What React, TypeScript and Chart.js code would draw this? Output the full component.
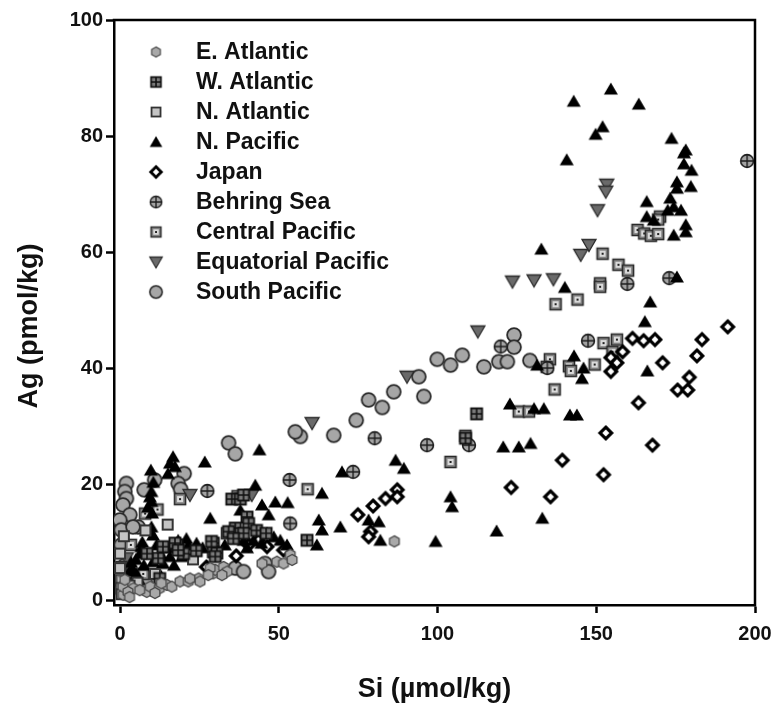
import React, { useEffect, useRef } from "react";
import { Chart, registerables } from "chart.js";
Chart.register(...registerables);

type Pt = [number, number];

const seriesNames = [
  "E. Atlantic",
  "W. Atlantic",
  "N. Atlantic",
  "N. Pacific",
  "Japan",
  "Behring Sea",
  "Central Pacific",
  "Equatorial Pacific",
  "South Pacific",
];

const xTicks = [0, 50, 100, 150, 200];
const yTicks = [0, 20, 40, 60, 80, 100];
const xTitle = "Si (\u00b5mol/kg)";
const yTitle = "Ag (pmol/kg)";

const eAtlantic: Pt[] = [
  [1.0, 0.9], [4.2, 2.0], [8.4, 1.4], [9.5, 2.3], [12.4, 2.0], [14.7, 2.6], [16.3, 2.3],
  [18.9, 3.2], [21.5, 3.2], [24.7, 3.7], [25.2, 3.2], [29.4, 4.6], [30.0, 5.2], [32.6, 5.7],
  [33.7, 4.9], [32.1, 4.3], [28.4, 5.5], [49.4, 6.6], [51.5, 6.3], [53.6, 7.8], [54.2, 6.9],
  [44.7, 6.3], [0.9, 2.3], [2.5, 1.4], [6.2, 1.7], [13.0, 2.9], [22.0, 3.7], [27.8, 4.3],
  [86.4, 10.1], [1.5, 3.5], [3.0, 0.5], [11.0, 1.2],
];

const wAtlantic: Pt[] = [
  [112.3, 32.1], [108.8, 27.9], [35.2, 17.4], [37.9, 17.4], [38.9, 18.1], [40.0, 14.3],
  [40.5, 13.2], [36.3, 12.4], [38.9, 11.5], [34.2, 11.8], [35.7, 10.6], [29.4, 9.8],
  [29.4, 8.3], [30.5, 8.1], [30.0, 7.5], [17.9, 9.5], [20.0, 8.0], [17.3, 9.8], [18.3, 8.6],
  [28.8, 10.1], [12.0, 7.2], [12.5, 3.7], [58.9, 10.3], [43.0, 12.0], [46.0, 11.5],
  [24.0, 8.5], [13.5, 9.2], [8.5, 8.0],
];

const nAtlantic: Pt[] = [
  [0.0, 5.5], [0.0, 8.0], [1.2, 11.0], [5.5, 3.0], [11.0, 4.5], [3.0, 2.5], [8.0, 12.0],
  [15.0, 13.0], [23.0, 7.0], [0.5, 1.0],
];

const nPacific: Pt[] = [
  [142.9, 86.0], [154.6, 88.1], [163.4, 85.5], [152.0, 81.6], [149.8, 80.3], [140.7, 75.9],
  [173.7, 79.6], [178.2, 77.6], [177.6, 77.1], [177.6, 75.2], [180.0, 74.1], [175.4, 72.1],
  [179.8, 71.3], [175.4, 71.0], [165.9, 68.7], [173.3, 69.3], [176.7, 67.2], [174.4, 67.8],
  [165.9, 66.1], [168.1, 65.5], [172.5, 67.2], [178.2, 64.7], [178.2, 63.5], [174.4, 62.9],
  [175.4, 55.7], [167.0, 51.4], [165.3, 48.0], [132.7, 60.5], [140.1, 53.9],
  [143.0, 42.1], [146.0, 40.0], [145.5, 38.2], [166.1, 39.5], [131.4, 40.5], [122.8, 33.8],
  [130.4, 33.0], [133.5, 33.0], [141.7, 31.9], [143.9, 31.9], [120.7, 26.4], [125.6, 26.4],
  [129.3, 27.0], [86.8, 24.1], [89.4, 22.7], [104.1, 17.8], [104.6, 16.1], [78.3, 13.8],
  [81.5, 13.5], [82.0, 10.3], [99.4, 10.1], [118.6, 11.9], [133.0, 14.1], [69.4, 12.6],
  [69.9, 22.1], [63.6, 18.4], [62.6, 13.8], [63.6, 12.1], [62.0, 9.5],
  [43.9, 25.9], [42.6, 19.8], [44.7, 16.4], [48.9, 16.9], [52.8, 16.8], [37.9, 15.5],
  [46.8, 14.7], [28.4, 14.1], [38.9, 10.3], [42.0, 10.3], [46.3, 11.5], [48.4, 10.9],
  [50.5, 10.3], [52.6, 9.5], [36.3, 10.6], [16.7, 24.7], [15.7, 23.6], [15.1, 21.8],
  [17.3, 23.0], [26.7, 23.8], [9.7, 22.4], [9.9, 18.7], [9.9, 17.0], [9.4, 17.8],
  [9.9, 12.6], [10.4, 11.2], [18.3, 10.3], [20.9, 10.6], [21.5, 9.5], [6.7, 9.2],
  [6.2, 8.0], [9.4, 8.0], [13.0, 7.8], [15.7, 7.5], [4.1, 5.2], [5.1, 4.6], [10.4, 6.6],
  [13.6, 6.3], [24.1, 9.8], [3.5, 6.5], [7.5, 6.0], [11.5, 9.5], [2.0, 4.0],
  [10.1, 15.0], [10.5, 20.3], [8.8, 16.0], [5.0, 7.0], [7.0, 10.0], [12.0, 5.0],
  [17.0, 6.0], [19.5, 7.5], [26.0, 9.0], [33.0, 9.5], [40.0, 9.0], [44.5, 9.8],
  [3.0, 5.0], [6.0, 3.5], [16.0, 9.0],
];

const japan: Pt[] = [
  [191.4, 47.1], [183.3, 44.9], [181.7, 42.1], [179.3, 38.4], [175.6, 36.2], [178.8, 36.2],
  [170.9, 40.9], [161.4, 45.1], [164.9, 44.7], [168.5, 44.9], [158.3, 42.8], [154.6, 41.8],
  [156.5, 40.9], [154.6, 39.4], [163.3, 34.0], [153.0, 28.8], [167.7, 26.7], [139.3, 24.1],
  [152.3, 21.6], [123.2, 19.4], [135.6, 17.8], [87.3, 19.0], [87.3, 17.8], [83.6, 17.5],
  [79.7, 16.2], [74.9, 14.7], [78.9, 11.8], [78.3, 10.9], [36.6, 7.6], [46.3, 9.2],
  [43.6, 10.3], [51.5, 8.6], [27.2, 5.7], [40.5, 9.5],
];

const behringSea: Pt[] = [
  [197.5, 75.7], [173.0, 55.5], [159.8, 54.5], [147.4, 44.7], [134.6, 40.0], [119.9, 43.7],
  [109.9, 26.7], [80.2, 27.9], [96.7, 26.7], [73.4, 22.1], [27.5, 18.8], [53.4, 20.7],
  [53.6, 13.2],
];

const centralPacific: Pt[] = [
  [163.0, 63.8], [165.1, 63.2], [167.2, 62.8], [169.5, 63.1], [170.1, 66.1], [169.5, 65.6],
  [152.0, 59.7], [157.0, 57.8], [160.0, 56.8], [151.2, 54.6], [151.2, 54.0], [144.1, 51.8],
  [137.2, 51.0], [135.4, 41.5], [134.4, 40.2], [141.4, 40.3], [142.0, 39.5], [149.5, 40.6],
  [152.3, 44.3], [156.5, 44.9], [155.1, 42.8], [136.9, 36.3], [125.6, 32.5], [128.8, 32.5],
  [104.1, 23.8], [59.1, 19.1], [18.9, 17.4], [7.9, 14.9], [11.8, 15.6], [7.3, 4.5],
  [0.4, 5.7], [0.4, 3.4], [0.4, 2.0], [3.4, 9.5], [37.0, 17.9], [33.7, 11.5], [108.8, 28.3],
];

const equatorialPacific: Pt[] = [
  [153.3, 71.6], [153.0, 70.4], [150.4, 67.2], [147.7, 61.2], [145.1, 59.5], [123.6, 54.9],
  [130.4, 55.1], [136.5, 55.3], [112.7, 46.3], [90.4, 38.5], [60.5, 30.5], [22.0, 18.1],
  [2.0, 7.2], [41.5, 18.1],
];

const southPacific: Pt[] = [
  [124.1, 45.7], [124.1, 43.6], [119.3, 41.1], [122.0, 41.1], [114.6, 40.2], [129.1, 41.3],
  [107.8, 42.2], [104.1, 40.5], [99.9, 41.5], [94.1, 38.5], [95.7, 35.1], [86.2, 35.9],
  [82.6, 33.2], [78.3, 34.5], [74.4, 31.0], [67.3, 28.4], [56.8, 28.2], [55.2, 29.0],
  [34.2, 27.1], [36.3, 25.2], [20.2, 21.8], [18.3, 20.1], [19.1, 19.1], [10.9, 20.7],
  [7.6, 19.0], [2.0, 20.1], [1.5, 18.7], [2.0, 17.5], [0.9, 16.4], [3.1, 14.7], [5.7, 12.6],
  [-0.1, 13.8], [0.4, 12.1], [0.4, 9.5], [4.1, 12.6], [36.3, 5.5], [38.9, 4.9], [45.7, 6.3],
  [46.8, 4.9], [1.5, 6.0], [3.5, 2.5], [8.0, 3.0],
];

const seriesData: Pt[][] = [
  eAtlantic, wAtlantic, nAtlantic, nPacific, japan, behringSea, centralPacific,
  equatorialPacific, southPacific,
];
const markerKinds = ["hex", "wAtl", "nAtl", "tri", "diamond", "behring", "cPac", "eqPac", "sPac"];

const FONT = '"Liberation Sans", Arial, Helvetica, sans-serif';

function makeMarker(kind: string): HTMLCanvasElement {
  const S = 18;
  const c = document.createElement("canvas");
  c.width = S;
  c.height = S;
  const g = c.getContext("2d")!;
  const m = S / 2;
  g.lineJoin = "miter";
  switch (kind) {
    case "hex": {
      g.beginPath();
      for (let k = 0; k < 6; k++) {
        const a = -Math.PI / 2 + (k * Math.PI) / 3;
        const px = m + 5.6 * Math.cos(a);
        const py = m + 5.6 * Math.sin(a);
        if (k === 0) g.moveTo(px, py);
        else g.lineTo(px, py);
      }
      g.closePath();
      g.fillStyle = "#a9a9a9";
      g.fill();
      g.strokeStyle = "#4a4a4a";
      g.lineWidth = 1.3;
      g.stroke();
      break;
    }
    case "wAtl": {
      g.fillStyle = "#7a7a7a";
      g.fillRect(m - 5.5, m - 5.5, 11, 11);
      g.strokeStyle = "#111";
      g.lineWidth = 1.9;
      g.strokeRect(m - 5.5, m - 5.5, 11, 11);
      g.lineWidth = 1.6;
      g.beginPath();
      g.moveTo(m, m - 5.5);
      g.lineTo(m, m + 5.5);
      g.moveTo(m - 5.5, m);
      g.lineTo(m + 5.5, m);
      g.stroke();
      break;
    }
    case "nAtl": {
      g.fillStyle = "#c4c4c4";
      g.fillRect(m - 5, m - 5, 10, 10);
      g.strokeStyle = "#333";
      g.lineWidth = 2;
      g.strokeRect(m - 5, m - 5, 10, 10);
      break;
    }
    case "tri": {
      g.beginPath();
      g.moveTo(m, m - 6.5);
      g.lineTo(m + 7, m + 5.5);
      g.lineTo(m - 7, m + 5.5);
      g.closePath();
      g.fillStyle = "#000";
      g.fill();
      break;
    }
    case "diamond": {
      g.beginPath();
      g.moveTo(m, m - 5.8);
      g.lineTo(m + 5.8, m);
      g.lineTo(m, m + 5.8);
      g.lineTo(m - 5.8, m);
      g.closePath();
      g.fillStyle = "#fff";
      g.fill();
      g.strokeStyle = "#000";
      g.lineWidth = 3.2;
      g.stroke();
      break;
    }
    case "behring": {
      g.beginPath();
      g.arc(m, m, 6.4, 0, Math.PI * 2);
      g.fillStyle = "#a3a3a3";
      g.fill();
      g.strokeStyle = "#1e1e1e";
      g.lineWidth = 1.6;
      g.stroke();
      g.lineWidth = 1.4;
      g.beginPath();
      g.moveTo(m, m - 6.4);
      g.lineTo(m, m + 6.4);
      g.moveTo(m - 6.4, m);
      g.lineTo(m + 6.4, m);
      g.stroke();
      break;
    }
    case "cPac": {
      g.fillStyle = "#8c8c8c";
      g.fillRect(m - 5.5, m - 5.5, 11, 11);
      g.strokeStyle = "#2a2a2a";
      g.lineWidth = 1.6;
      g.strokeRect(m - 5.5, m - 5.5, 11, 11);
      g.fillStyle = "#dadada";
      g.fillRect(m - 3, m - 3, 6, 6);
      g.fillStyle = "#222";
      g.fillRect(m - 1, m - 1, 2, 2);
      break;
    }
    case "eqPac": {
      g.beginPath();
      g.moveTo(m - 7, m - 5.5);
      g.lineTo(m + 7, m - 5.5);
      g.lineTo(m, m + 6.5);
      g.closePath();
      g.fillStyle = "#6a6a6a";
      g.fill();
      g.strokeStyle = "#2a2a2a";
      g.lineWidth = 1.3;
      g.stroke();
      break;
    }
    case "sPac": {
      g.beginPath();
      g.arc(m, m, 6.9, 0, Math.PI * 2);
      g.fillStyle = "#a6a6a6";
      g.fill();
      g.strokeStyle = "#2a2a2a";
      g.lineWidth = 1.8;
      g.stroke();
      break;
    }
  }
  return c;
}

export default function App() {
  const ref = useRef<HTMLCanvasElement | null>(null);

  useEffect(() => {
    if (!ref.current) return;
    const markers = markerKinds.map(makeMarker);

    const framePlugin = {
      id: "frameLegendTitles",
      afterDraw(chart: any) {
        const { ctx, chartArea } = chart;
        const { left, top, right, bottom } = chartArea;
        ctx.save();
        ctx.strokeStyle = "#000";
        ctx.lineWidth = 2.5;
        ctx.beginPath();
        ctx.moveTo(left - 1.25, top);
        ctx.lineTo(right, top);
        ctx.lineTo(right, bottom + 1.25);
        ctx.stroke();

        ctx.font = `bold 23px ${FONT}`;
        ctx.fillStyle = "#111";
        ctx.textBaseline = "middle";
        ctx.textAlign = "left";
        seriesNames.forEach((name, i) => {
          const y = top + 32 + i * 30;
          const mk = markers[i];
          const s = 0.9;
          ctx.drawImage(mk, left + 42 - (mk.width * s) / 2, y - (mk.height * s) / 2, mk.width * s, mk.height * s);
          ctx.fillText(name, left + 82, y + 1);
        });

        ctx.font = `bold 27px ${FONT}`;
        ctx.textAlign = "center";
        ctx.textBaseline = "middle";
        ctx.fillText(xTitle, (left + right) / 2, 690);
        ctx.save();
        ctx.translate(30, 326);
        ctx.rotate(-Math.PI / 2);
        ctx.fillText(yTitle, 0, 0);
        ctx.restore();
        ctx.restore();
      },
    };

    const chart = new Chart(ref.current, {
      type: "scatter",
      data: {
        datasets: seriesNames.map((name, i) => ({
          label: name,
          data: seriesData[i].map(([x, y]) => ({ x, y })),
          pointStyle: markers[i] as any,
          pointRadius: 7,
          pointHoverRadius: 7,
          showLine: false,
        })),
      },
      options: {
        animation: false,
        responsive: true,
        maintainAspectRatio: false,
        layout: { padding: { top: 20, right: 18, left: 0, bottom: 0 } },
        plugins: {
          legend: { display: false },
          tooltip: { enabled: false },
        },
        scales: {
          x: {
            type: "linear",
            min: -1.9,
            max: 200,
            afterBuildTicks: (s: any) => {
              s.ticks = xTicks.map((v) => ({ value: v }));
            },
            afterFit: (s: any) => {
              s.height = 101;
              s.paddingLeft = 0;
              s.paddingRight = 0;
            },
            grid: {
              drawOnChartArea: false,
              drawTicks: true,
              tickLength: 8,
              tickWidth: 2.5,
              tickColor: "#000",
              color: "#000",
            },
            border: { display: true, width: 2.5, color: "#000" },
            ticks: {
              autoSkip: false,
              maxRotation: 0,
              padding: 9,
              color: "#111",
              font: { family: FONT, size: 20, weight: "bold" },
            },
          },
          y: {
            type: "linear",
            min: -0.86,
            max: 100,
            afterBuildTicks: (s: any) => {
              s.ticks = yTicks.map((v) => ({ value: v }));
            },
            afterFit: (s: any) => {
              s.width = 114;
              s.paddingTop = 0;
              s.paddingBottom = 0;
            },
            grid: {
              drawOnChartArea: false,
              drawTicks: true,
              tickLength: 8,
              tickWidth: 2.5,
              tickColor: "#000",
              color: "#000",
            },
            border: { display: true, width: 2.5, color: "#000" },
            ticks: {
              autoSkip: false,
              padding: 3,
              color: "#111",
              font: { family: FONT, size: 20, weight: "bold" },
            },
          },
        },
      },
      plugins: [framePlugin],
    });
    return () => chart.destroy();
  }, []);

  return (
    <div style={{ position: "absolute", left: 0, top: 0, width: 773, height: 706, background: "#fff" }}>
      <canvas ref={ref} />
    </div>
  );
}
